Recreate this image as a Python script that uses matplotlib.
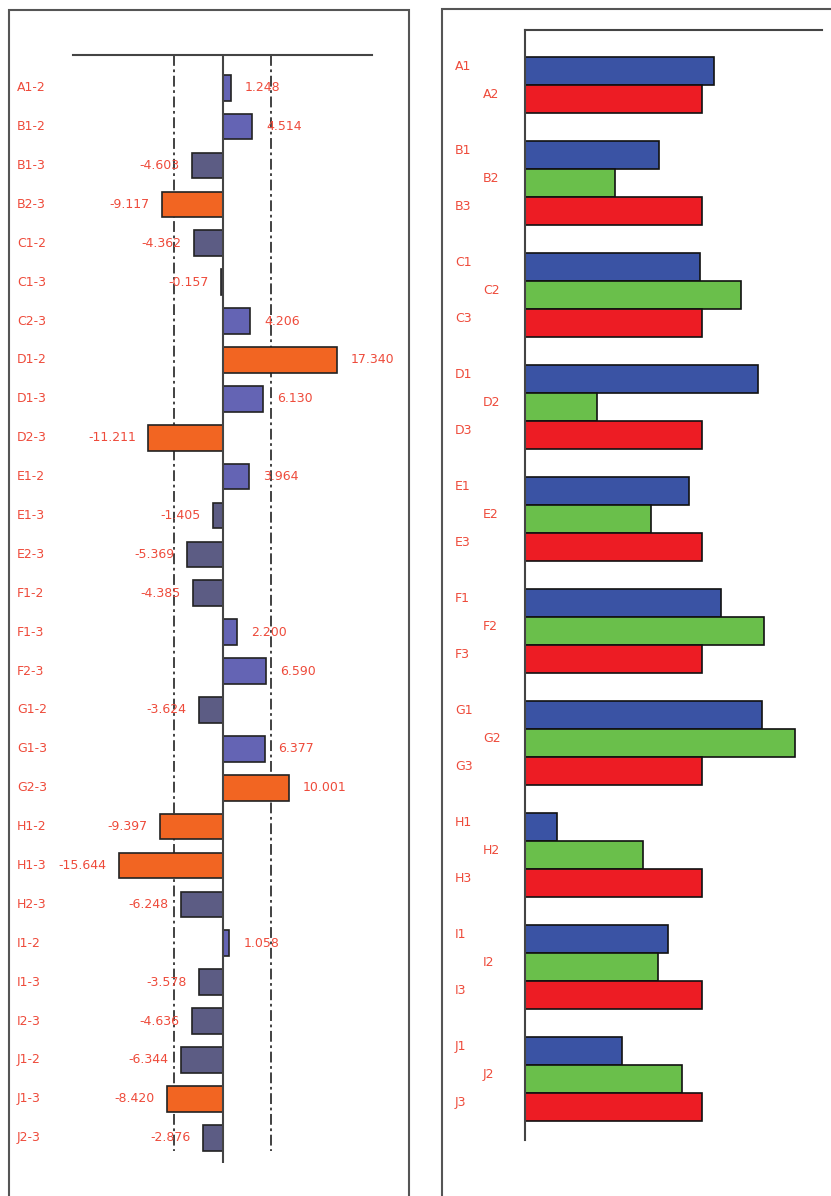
import matplotlib
matplotlib.use('Agg')
import matplotlib.pyplot as plt
import matplotlib.transforms as mtrans
from matplotlib.patches import Rectangle

# left panel: pairwise differences
pairs = ['A1-2', 'B1-2', 'B1-3', 'B2-3', 'C1-2', 'C1-3', 'C2-3', 'D1-2', 'D1-3',
         'D2-3', 'E1-2', 'E1-3', 'E2-3', 'F1-2', 'F1-3', 'F2-3', 'G1-2', 'G1-3',
         'G2-3', 'H1-2', 'H1-3', 'H2-3', 'I1-2', 'I1-3', 'I2-3', 'J1-2', 'J1-3', 'J2-3']
diffs = [1.248, 4.514, -4.603, -9.117, -4.362, -0.157, 4.206, 17.340, 6.130,
         -11.211, 3.964, -1.405, -5.369, -4.385, 2.200, 6.590, -3.624, 6.377,
         10.001, -9.397, -15.644, -6.248, 1.058, -3.578, -4.636, -6.344, -8.420, -2.876]
limit = 7.35

# right panel: grouped bars
groups = ['A', 'B', 'C', 'D', 'E', 'F', 'G', 'H', 'I', 'J']
first = [107, 76, 99, 132, 93, 111, 134, 18, 81, 55]
second = [None, 51, 122, 41, 71, 135, 153, 67, 75, 89]
ref = [100, 100, 100, 100, 100, 100, 100, 100, 100, 100]

lab_col = '#ee4b3b'
W, H = 831, 1196
fig = plt.figure(figsize=(W / 100, H / 100), dpi=100)

# panel frames
for x0, x1, y0 in [(9, 409, 10), (442, 840, 9)]:
    fig.patches.append(Rectangle((x0 / W, -0.02), (x1 - x0) / W, 1 - y0 / H + 0.02,
                                 transform=fig.transFigure, fill=False,
                                 edgecolor='#555555', lw=1.5))

# ---- left
ax = fig.add_axes([73 / W, 1 - 1163 / H, 299 / W, (1163 - 55) / H])
n = len(pairs)
ys = list(range(n))
cols = []
for d in diffs:
    if abs(d) > limit:
        cols.append('#f26522')
    elif d > 0:
        cols.append('#6464b4')
    else:
        cols.append('#5c5c84')
ax.barh(ys, diffs, height=0.66, color=cols, edgecolor='#222222', lw=1.2, zorder=3)
ax.set_xlim(-22.6, 22.6)
ax.set_ylim(n - 1 + 0.65, -0.84)
ax.axvline(0, color='#444444', lw=1.5, zorder=4)
for v in (-limit, limit):
    ax.plot([v, v], [-0.84, n - 1 + 0.33], color='#333333', lw=1.3,
            ls=(0, (6, 2, 1.5, 2)), zorder=2)
for s in ['left', 'right', 'bottom']:
    ax.spines[s].set_visible(False)
ax.spines['top'].set_color('#444444')
ax.spines['top'].set_linewidth(1.5)
ax.set_xticks([])
ax.set_yticks([])
tr = mtrans.blended_transform_factory(fig.transFigure, ax.transData)
for y, p, d in zip(ys, pairs, diffs):
    ax.text(17 / W, y, p, transform=tr, color=lab_col, fontsize=9, va='center')
    if d >= 0:
        ax.annotate('%.3f' % d, (d, y), xytext=(10, 0), textcoords='offset points',
                    color=lab_col, fontsize=9, va='center', ha='left', zorder=5)
    else:
        ax.annotate('%.3f' % d, (d, y), xytext=(-9, 0), textcoords='offset points',
                    color=lab_col, fontsize=9, va='center', ha='right', zorder=5)

# ---- right
ax2 = fig.add_axes([525 / W, 1 - 1140 / H, 297 / W, (1140 - 30) / H])
tr2 = mtrans.blended_transform_factory(fig.transFigure, ax2.transData)
pos = 0
for g, a, b, r in zip(groups, first, second, ref):
    vals = [(a, '#3a53a4', g + '1')]
    if b is not None:
        vals.append((b, '#6abf4b', g + '2'))
        vals.append((r, '#ed1c24', g + '3'))
    else:
        vals.append((r, '#ed1c24', g + '2'))
    for i, (v, c, name) in enumerate(vals):
        ax2.barh(pos, v, height=1.0, color=c, edgecolor='#111111', lw=1.2)
        lx = 483 if i == 1 else 455
        ax2.text(lx / W, pos - 0.15, name, transform=tr2, color=lab_col,
                 fontsize=9, va='center')
        pos += 1
    pos += 1
ax2.set_xlim(0, 168)
ax2.set_ylim(pos - 2 + 1.18, -1.46)
ax2.spines['right'].set_visible(False)
ax2.spines['bottom'].set_visible(False)
for s in ['left', 'top']:
    ax2.spines[s].set_color('#444444')
    ax2.spines[s].set_linewidth(1.5)
ax2.set_xticks([])
ax2.set_yticks([])

fig.savefig('out.png', dpi=100)
